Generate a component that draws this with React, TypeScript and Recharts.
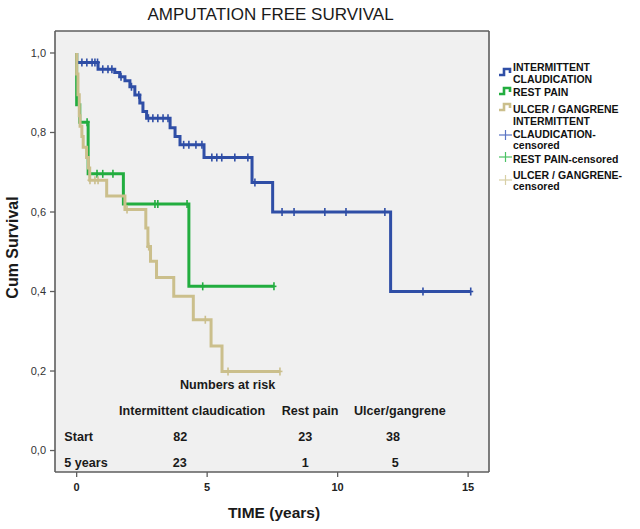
import React from 'react';
import {
  ComposedChart,
  Line,
  Scatter,
  XAxis,
  YAxis,
  CartesianGrid,
  ReferenceLine,
} from 'recharts';

// ---- data ----
const claudTimes = [0, 0, 0.82, 1.46, 1.65, 1.85, 2.04, 2.23, 2.42, 2.54, 2.68, 3.58, 3.77, 3.96, 4.88, 6.72, 7.51, 12.03, 15.1];
const claudSurv = [1, 0.976, 0.959, 0.951, 0.94, 0.93, 0.915, 0.894, 0.874, 0.853, 0.836, 0.812, 0.79, 0.769, 0.737, 0.674, 0.6, 0.4, 0.4];
const claudCensored = [0.2, 0.39, 0.59, 0.7, 0.8, 1.0, 1.2, 1.35, 1.7, 2.1, 2.38, 2.75, 2.92, 3.11, 3.31, 3.5, 4.1, 4.3, 4.57, 4.8, 5.18, 5.37, 5.56, 6.06, 6.56, 6.83, 7.87, 8.33, 9.51, 10.32, 11.81, 13.27, 15.1];

const restTimes = [0, 0, 0.12, 0.44, 1.79, 4.3, 7.56];
const restSurv = [1, 0.87, 0.826, 0.696, 0.62, 0.413, 0.413];
const restCensored = [0.4, 0.78, 1.0, 1.39, 3.0, 3.11, 4.23, 4.83, 7.56];

const ulcerTimes = [0, 0, 0.05, 0.1, 0.13, 0.2, 0.25, 0.38, 0.45, 0.5, 1.15, 1.85, 2.65, 2.73, 2.83, 3.06, 3.72, 4.47, 5.15, 5.57, 7.79];
const ulcerSurv = [1, 0.947, 0.895, 0.842, 0.816, 0.79, 0.763, 0.737, 0.711, 0.68, 0.64, 0.606, 0.56, 0.513, 0.476, 0.435, 0.388, 0.329, 0.263, 0.199, 0.199];
const ulcerCensored = [0.51, 0.7, 0.82, 1.93, 2.76, 4.93, 5.8, 7.79];

const xTicks = [0, 5, 10, 15];
const yTicks = [0, 0.2, 0.4, 0.6, 0.8, 1.0];

const riskColumns = ['Intermittent claudication', 'Rest pain', 'Ulcer/gangrene'];
const riskRows = ['Start', '5 years'];
const riskStart = [82, 23, 38];
const riskFive = [23, 1, 5];

const legendLabels = [
  ['INTERMITTENT', 'CLAUDICATION'],
  ['REST PAIN'],
  ['ULCER / GANGRENE'],
  ['INTERMITTENT', 'CLAUDICATION-', 'censored'],
  ['REST PAIN-censored'],
  ['ULCER / GANGRENE-', 'censored'],
];

// ---- styling ----
const BLUE = '#2f4ea6';
const GREEN = '#22ad3f';
const TAN = '#cbbf8c';
const FRAME = '#5e5e5e';
const FONT = '"Liberation Sans", Arial, sans-serif';
const X_DOMAIN: [number, number] = [-0.83, 15.8];
const Y_DOMAIN: [number, number] = [-0.054, 1.0553];

const toPoints = (ts: number[], ss: number[]) => ts.map((t, i) => ({ t, s: ss[i] }));
const survAt = (ts: number[], ss: number[], t: number) => {
  let v = ss[0];
  for (let i = 0; i < ts.length; i++) if (ts[i] <= t) v = ss[i];
  return v;
};
const censorPoints = (ts: number[], ss: number[], cs: number[]) =>
  cs.map((t) => ({ t, s: survAt(ts, ss, t) }));

const claudData = toPoints(claudTimes, claudSurv);
const restData = toPoints(restTimes, restSurv);
const ulcerData = toPoints(ulcerTimes, ulcerSurv);
const claudCens = censorPoints(claudTimes, claudSurv, claudCensored);
const restCens = censorPoints(restTimes, restSurv, restCensored);
const ulcerCens = censorPoints(ulcerTimes, ulcerSurv, ulcerCensored);

const plusShape = (color: string) => (props: any) => {
  const { cx, cy } = props;
  return (
    <g>
      <line x1={cx} x2={cx} y1={cy - 4} y2={cy + 4} stroke={color} strokeWidth={1.6} />
      <line x1={cx - 2.5} x2={cx + 2.5} y1={cy} y2={cy} stroke={color} strokeWidth={1.6} />
    </g>
  );
};

const fmt = (v: number) => v.toFixed(1).replace('.', ',');

const StepIcon = ({ color }: { color: string }) => (
  <svg width={13} height={10} style={{ display: 'block' }}>
    <path d="M0,8 H5 V2 H11 V6" fill="none" stroke={color} strokeWidth={2.6} />
  </svg>
);
const PlusIcon = ({ color }: { color: string }) => (
  <svg width={13} height={12} style={{ display: 'block' }}>
    <line x1={0} x2={13} y1={6} y2={6} stroke={color} strokeWidth={1.2} />
    <line x1={6.5} x2={6.5} y1={1} y2={11} stroke={color} strokeWidth={1.2} />
  </svg>
);

const legendTextTops = [
  [60.5, 72.7],
  [86.4],
  [102.7],
  [115.4, 127.7, 139.4],
  [153],
  [168.7, 179.7],
];
const legendIconTops = [67, 86, 102, 129, 151, 174];
const legendColors = [BLUE, GREEN, TAN, '#5a74c4', '#4cc265', '#d8cfa6'];

export default function App() {
  const textStyle = { fontFamily: FONT, fill: '#1a1a1a' } as const;
  const riskX = [
    [119, 281.7, 354],
    [173.3, 298.3, 386],
    [172.7, 301.7, 391.7],
  ];
  return (
    <div style={{ position: 'absolute', left: 0, top: 0, width: 640, height: 529, background: '#fff' }}>
      <ComposedChart width={640} height={529} margin={{ top: 31, right: 151, bottom: 0, left: 0 }}>
        <CartesianGrid fill="#f0f0f0" stroke="none" horizontal={false} vertical={false} />
        <XAxis
          dataKey="t"
          type="number"
          domain={X_DOMAIN}
          ticks={xTicks}
          height={57}
          axisLine={{ stroke: FRAME, strokeWidth: 1.6 }}
          tickLine={{ stroke: FRAME, strokeWidth: 1.3 }}
          tickSize={5}
          tickMargin={6}
          tick={{ fontFamily: FONT, fontSize: 11, fontWeight: 'bold', fill: '#222' }}
          allowDataOverflow
        />
        <YAxis
          type="number"
          domain={Y_DOMAIN}
          ticks={yTicks}
          width={55}
          tickFormatter={fmt}
          axisLine={{ stroke: FRAME, strokeWidth: 1.6 }}
          tickLine={{ stroke: FRAME, strokeWidth: 1.3 }}
          tickSize={5}
          tickMargin={4}
          tick={{ fontFamily: FONT, fontSize: 11, fill: '#333' }}
          allowDataOverflow
        />
        <ReferenceLine y={Y_DOMAIN[1]} stroke={FRAME} strokeWidth={1.6} />
        <ReferenceLine x={X_DOMAIN[1]} stroke={FRAME} strokeWidth={1.6} />
        <Line data={claudData} dataKey="s" type="stepAfter" stroke={BLUE} strokeWidth={3} dot={false} isAnimationActive={false} />
        <Line data={restData} dataKey="s" type="stepAfter" stroke={GREEN} strokeWidth={3} dot={false} isAnimationActive={false} />
        <Line data={ulcerData} dataKey="s" type="stepAfter" stroke={TAN} strokeWidth={3} dot={false} isAnimationActive={false} />
        <Scatter data={claudCens} dataKey="s" shape={plusShape(BLUE)} isAnimationActive={false} />
        <Scatter data={restCens} dataKey="s" shape={plusShape(GREEN)} isAnimationActive={false} />
        <Scatter data={ulcerCens} dataKey="s" shape={plusShape(TAN)} isAnimationActive={false} />
      </ComposedChart>

      <svg width={640} height={529} style={{ position: 'absolute', left: 0, top: 0, pointerEvents: 'none' }}>
        <text x={270.5} y={20} textAnchor="middle" fontSize={17} style={textStyle}>
          AMPUTATION FREE SURVIVAL
        </text>
        <text
          x={18}
          y={247.5}
          textAnchor="middle"
          fontSize={16}
          fontWeight="bold"
          transform="rotate(-90, 18, 247.5)"
          style={textStyle}
        >
          Cum Survival
        </text>
        <text x={274} y={518.3} textAnchor="middle" fontSize={15.5} fontWeight="bold" style={textStyle}>
          TIME (years)
        </text>
        <text x={180} y={389.3} fontSize={12.6} fontWeight="bold" style={textStyle}>
          Numbers at risk
        </text>
        {riskColumns.map((c, i) => (
          <text key={c} x={riskX[0][i]} y={415} fontSize={12.6} fontWeight="bold" style={textStyle}>
            {c}
          </text>
        ))}
        {riskRows.map((r, i) => (
          <text key={r} x={64.3} y={i === 0 ? 441 : 466.7} fontSize={12.6} fontWeight="bold" style={textStyle}>
            {r}
          </text>
        ))}
        {riskStart.map((v, i) => (
          <text key={'s' + i} x={riskX[1][i]} y={441} fontSize={12.6} fontWeight="bold" style={textStyle}>
            {v}
          </text>
        ))}
        {riskFive.map((v, i) => (
          <text key={'f' + i} x={riskX[2][i]} y={466.7} fontSize={12.6} fontWeight="bold" style={textStyle}>
            {v}
          </text>
        ))}
      </svg>

      {legendLabels.map((lines, i) => (
        <React.Fragment key={i}>
          <div style={{ position: 'absolute', left: 499, top: legendIconTops[i] }}>
            {i < 3 ? <StepIcon color={legendColors[i]} /> : <PlusIcon color={legendColors[i]} />}
          </div>
          {lines.map((ln, j) => (
            <div
              key={j}
              style={{
                position: 'absolute',
                left: 513,
                top: legendTextTops[i][j],
                fontFamily: FONT,
                fontSize: 10.5,
                fontWeight: 'bold',
                lineHeight: '12px',
                color: '#111',
                whiteSpace: 'nowrap',
              }}
            >
              {ln}
            </div>
          ))}
        </React.Fragment>
      ))}
    </div>
  );
}
